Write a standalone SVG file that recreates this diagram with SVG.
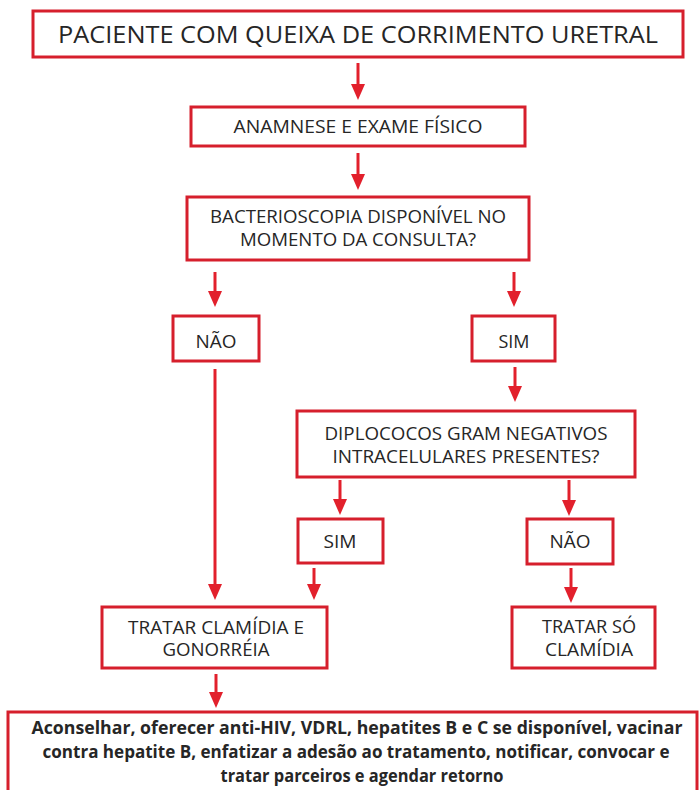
<svg xmlns="http://www.w3.org/2000/svg" width="699" height="790" viewBox="0 0 699 790">
  <style>
    .box { fill: #ffffff; stroke: #d61f2c; stroke-width: 3; }
    .lbl { font-family: "Open Sans", "Liberation Sans", sans-serif; font-size: 18px; fill: #262626; text-anchor: middle; }
    .title { font-size: 23px; }
    .note { font-family: "Open Sans", "Liberation Sans", sans-serif; font-size: 17px; font-weight: bold; fill: #262626; text-anchor: middle; }
    .conn { fill: none; stroke: #e2202c; stroke-width: 3; marker-end: url(#head); }
  </style>
  <defs>
    <marker id="head" markerUnits="userSpaceOnUse" markerWidth="16" markerHeight="14" refX="2" refY="7" orient="auto">
      <path d="M0,0 L16,7 L0,14 z" fill="#e2202c"/>
    </marker>
  </defs>
  <rect width="699" height="790" fill="#ffffff"/>

  <g id="connectors">
    <path class="conn" d="M358,63 V86"/>
    <path class="conn" d="M358,153 V176"/>
    <path class="conn" d="M215,272 V293"/>
    <path class="conn" d="M514,272 V293"/>
    <path class="conn" d="M515,367 V388"/>
    <path class="conn" d="M340,480 V501"/>
    <path class="conn" d="M569,480 V502"/>
    <path class="conn" d="M215,369 V586"/>
    <path class="conn" d="M314,568 V586"/>
    <path class="conn" d="M571,568 V589"/>
    <path class="conn" d="M216,674 V694"/>
  </g>

  <g id="queixa">
    <rect class="box" x="33" y="11" width="650" height="46"/>
    <text class="lbl title" x="358" y="43" textLength="600" lengthAdjust="spacingAndGlyphs">PACIENTE COM QUEIXA DE CORRIMENTO URETRAL</text>
  </g>

  <g id="anamnese">
    <rect class="box" x="191" y="107" width="334" height="39"/>
    <text class="lbl" x="358" y="133" textLength="249" lengthAdjust="spacingAndGlyphs">ANAMNESE E EXAME FÍSICO</text>
  </g>

  <g id="bacterioscopia">
    <rect class="box" x="187" y="197" width="342" height="63"/>
    <text class="lbl" x="358" y="223" textLength="296" lengthAdjust="spacingAndGlyphs">BACTERIOSCOPIA DISPONÍVEL NO</text>
    <text class="lbl" x="358" y="246" textLength="236" lengthAdjust="spacingAndGlyphs">MOMENTO DA CONSULTA?</text>
  </g>

  <g id="nao-1">
    <rect class="box" x="173" y="316" width="86" height="45"/>
    <text class="lbl" x="216" y="348" textLength="41" lengthAdjust="spacingAndGlyphs">NÃO</text>
  </g>

  <g id="sim-1">
    <rect class="box" x="472" y="316" width="83" height="45"/>
    <text class="lbl" x="514" y="348" textLength="31" lengthAdjust="spacingAndGlyphs">SIM</text>
  </g>

  <g id="diplococos">
    <rect class="box" x="297" y="411" width="338" height="66"/>
    <text class="lbl" x="466" y="440" textLength="283" lengthAdjust="spacingAndGlyphs">DIPLOCOCOS GRAM NEGATIVOS</text>
    <text class="lbl" x="466" y="463" textLength="267" lengthAdjust="spacingAndGlyphs">INTRACELULARES PRESENTES?</text>
  </g>

  <g id="sim-2">
    <rect class="box" x="298" y="519" width="85" height="44"/>
    <text class="lbl" x="340" y="548" textLength="33" lengthAdjust="spacingAndGlyphs">SIM</text>
  </g>

  <g id="nao-2">
    <rect class="box" x="527" y="519" width="86" height="45"/>
    <text class="lbl" x="570" y="548" textLength="41" lengthAdjust="spacingAndGlyphs">NÃO</text>
  </g>

  <g id="tratar-clamidia-gonorreia">
    <rect class="box" x="102" y="607" width="225" height="61"/>
    <text class="lbl" x="216" y="634" textLength="176" lengthAdjust="spacingAndGlyphs">TRATAR CLAMÍDIA E</text>
    <text class="lbl" x="216" y="656" textLength="107" lengthAdjust="spacingAndGlyphs">GONORRÉIA</text>
  </g>

  <g id="tratar-so-clamidia">
    <rect class="box" x="512" y="607" width="143" height="61"/>
    <text class="lbl" x="589" y="633" textLength="94" lengthAdjust="spacingAndGlyphs">TRATAR SÓ</text>
    <text class="lbl" x="589" y="656" textLength="88" lengthAdjust="spacingAndGlyphs">CLAMÍDIA</text>
  </g>

  <g id="aconselhar">
    <rect class="box" x="8" y="712" width="689" height="90"/>
    <text class="note" x="357" y="734" textLength="651" lengthAdjust="spacingAndGlyphs">Aconselhar, oferecer anti-HIV, VDRL, hepatites B e C se disponível, vacinar</text>
    <text class="note" x="356" y="758" textLength="627" lengthAdjust="spacingAndGlyphs">contra hepatite B, enfatizar a adesão ao tratamento, notificar, convocar e</text>
    <text class="note" x="362" y="782" textLength="283" lengthAdjust="spacingAndGlyphs">tratar parceiros e agendar retorno</text>
  </g>
</svg>
